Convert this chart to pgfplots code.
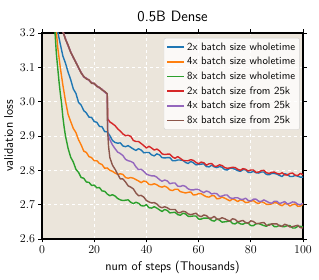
\documentclass[border=0pt]{standalone}
\usepackage{pgfplots}
\pgfplotsset{compat=1.18}
\definecolor{bgc}{RGB}{235,229,219}
\definecolor{cblue}{HTML}{1F77B4}
\definecolor{corange}{HTML}{FF7F0E}
\definecolor{cgreen}{HTML}{2CA02C}
\definecolor{cred}{HTML}{D62728}
\definecolor{cpurple}{HTML}{9467BD}
\definecolor{cbrown}{HTML}{8C564B}
\begin{document}
\begin{tikzpicture}
\useasboundingbox (-42pt,-41pt) rectangle (277pt,239pt);
\begin{axis}[
  at={(0,0)}, anchor=south west,
  scale only axis, width=261pt, height=206pt,
  xmin=0, xmax=100, ymin=2.6, ymax=3.2,
  xtick={0,20,40,60,80,100},
  ytick={2.6,2.7,2.8,2.9,3.0,3.1,3.2},
  yticklabel style={/pgf/number format/fixed, /pgf/number format/precision=1, /pgf/number format/fixed zerofill},
  tick label style={font=\fontsize{12.5}{15}\selectfont},
  axis background/.style={fill=bgc},
  grid=major,
  major grid style={white, dashed, line width=0.8pt},
  axis line style={black, line width=1.8pt},
  tick align=outside,
  tick style={black, line width=0.8pt},
  major tick length=3.5pt,
  title={0.5B Dense},
  title style={font=\sffamily\fontsize{15}{18}\selectfont, yshift=2pt},
  xlabel={num of steps (Thousands)},
  ylabel={validation loss},
  label style={font=\sffamily\fontsize{12.5}{15}\selectfont},
  legend style={at={(0.988,0.976)}, anchor=north east, draw=gray!35, rounded corners=2pt,
    fill=white, fill opacity=0.8, text opacity=1, draw opacity=1,
    font=\sffamily\fontsize{10.8}{13}\selectfont, row sep=1.6pt, inner sep=2.5pt},
  legend cell align=left,
  legend image post style={line width=1.6pt},
  every axis plot/.append style={line width=1.4pt, line join=round},
]
% 2x wholetime
\addplot[cblue] coordinates {
(5,3.27) (6,3.205) (7,3.168) (8,3.133) (9,3.112) (10,3.086) (11,3.064) (12,3.037) (13,3.024) (14,2.998) (15,2.990) (16,2.974) (17,2.967) (18,2.955) (19,2.954) (20,2.942) (21,2.940) (22,2.928) (23,2.927) (24,2.913) (25,2.912)
(26,2.901) (27,2.887) (28,2.881) (29,2.879)
(30,2.880) (31,2.871) (32,2.869) (33,2.872) (34,2.867) (35,2.862) (36,2.858) (37,2.863) (38,2.859) (39,2.851) (40,2.852) (41,2.852) (42,2.845) (43,2.842) (44,2.848) (45,2.845) (46,2.837) (47,2.836) (48,2.837) (49,2.837) (50,2.828) (51,2.828) (52,2.830) (53,2.830) (54,2.829) (55,2.823) (56,2.820) (57,2.826) (58,2.822) (59,2.816) (60,2.817) (61,2.818) (62,2.819) (63,2.811) (64,2.810) (65,2.815) (66,2.810) (67,2.808) (68,2.811) (69,2.809) (70,2.802) (71,2.801) (72,2.806) (73,2.806) (74,2.803) (75,2.799) (76,2.797) (77,2.802) (78,2.802) (79,2.794) (80,2.794) (81,2.797) (82,2.793) (83,2.792) (84,2.795) (85,2.795) (86,2.788) (87,2.787) (88,2.791) (89,2.791) (90,2.789) (91,2.785) (92,2.782) (93,2.790) (94,2.788) (95,2.782) (96,2.782) (97,2.785) (98,2.783) (99,2.780) (100,2.780)
};
\addlegendentry{2x batch size wholetime}
% 4x wholetime
\addplot[corange] coordinates {
(4.5,3.30) (5.5,3.205) (6,3.16) (7,3.10) (8,3.048) (9,3.002) (10,2.963) (11,2.942) (12,2.922) (13,2.910) (14,2.889) (15,2.874) (16,2.856) (17,2.852) (18,2.840) (19,2.837) (20,2.828) (21,2.828) (22,2.820) (23,2.817) (24,2.806) (25,2.807)
(26,2.800) (27,2.797) (28,2.792) (29,2.788) (30,2.790)
(31,2.788) (32,2.779) (33,2.777) (34,2.779) (35,2.777) (36,2.773) (37,2.769) (38,2.764) (39,2.769) (40,2.767) (41,2.759) (42,2.758) (43,2.761) (44,2.758) (45,2.753) (46,2.751) (47,2.754) (48,2.750) (49,2.743) (50,2.741) (51,2.745) (52,2.745) (53,2.738) (54,2.736) (55,2.734) (56,2.736) (57,2.737) (58,2.728) (59,2.729) (60,2.732) (61,2.732) (62,2.727) (63,2.723) (64,2.722) (65,2.726) (66,2.726) (67,2.717) (68,2.718) (69,2.722) (70,2.719) (71,2.715) (72,2.711) (73,2.717) (74,2.714) (75,2.709) (76,2.714) (77,2.712) (78,2.706) (79,2.707) (80,2.710) (81,2.712) (82,2.706) (83,2.703) (84,2.709) (85,2.706) (86,2.701) (87,2.701) (88,2.702) (89,2.706) (90,2.705) (91,2.700) (92,2.697) (93,2.703) (94,2.702) (95,2.696) (96,2.700) (97,2.702) (98,2.695) (99,2.696) (100,2.701)
};
\addlegendentry{4x batch size wholetime}
% 8x wholetime
\addplot[cgreen] coordinates {
(4,3.33) (4.5,3.27) (5,3.20) (5.5,3.14) (6,3.10) (6.5,3.06) (7,3.025) (7.5,2.995) (8,2.955) (8.5,2.925) (9,2.90) (10,2.864) (11,2.838) (12,2.824) (13,2.803) (14,2.794) (15,2.779) (16,2.777) (17,2.766) (18,2.765) (19,2.756) (20,2.757) (21,2.749) (22,2.750) (23,2.740) (24,2.739) (25,2.731)
(26,2.726) (27,2.729) (28,2.725) (29,2.718) (30,2.714)
(31,2.712) (32,2.713) (33,2.714) (34,2.707) (35,2.703) (36,2.707) (37,2.704) (38,2.697) (39,2.696) (40,2.700) (41,2.691) (42,2.690) (43,2.694) (44,2.690) (45,2.685) (46,2.680) (47,2.686) (48,2.683) (49,2.676) (50,2.677) (51,2.678) (52,2.671) (53,2.669) (54,2.675) (55,2.673) (56,2.666) (57,2.666) (58,2.667) (59,2.667) (60,2.658) (61,2.658) (62,2.661) (63,2.661) (64,2.660) (65,2.654) (66,2.652) (67,2.658) (68,2.655) (69,2.649) (70,2.650) (71,2.651) (72,2.653) (73,2.645) (74,2.644) (75,2.649) (76,2.644) (77,2.643) (78,2.647) (79,2.646) (80,2.639) (81,2.639) (82,2.644) (83,2.645) (84,2.642) (85,2.639) (86,2.637) (87,2.643) (88,2.643) (89,2.636) (90,2.636) (91,2.640) (92,2.636) (93,2.636) (94,2.639) (95,2.639) (96,2.632) (97,2.632) (98,2.637) (99,2.637) (100,2.635)
};
\addlegendentry{8x batch size wholetime}
% 2x from 25k
\addplot[cred] coordinates {
(6,3.27) (7,3.235) (8,3.205) (9,3.183) (10,3.163) (11,3.145) (12,3.128) (13,3.115) (14,3.098) (15,3.085) (16,3.072) (17,3.068) (18,3.062) (19,3.055) (20,3.052) (21,3.046) (22,3.040) (23,3.036) (24,3.028) (25,3.023)
(25.2,2.950) (26,2.941) (27,2.936) (28,2.930) (29,2.921) (30,2.914)
(31,2.906) (32,2.901) (33,2.902) (34,2.899) (35,2.887) (36,2.884) (37,2.884) (38,2.878) (39,2.872) (40,2.865) (41,2.870) (42,2.865) (43,2.859) (44,2.862) (45,2.857) (46,2.848) (47,2.846) (48,2.847) (49,2.847) (50,2.839) (51,2.835) (52,2.840) (53,2.835) (54,2.829) (55,2.828) (56,2.828) (57,2.831) (58,2.829) (59,2.823) (60,2.819) (61,2.824) (62,2.822) (63,2.815) (64,2.819) (65,2.820) (66,2.812) (67,2.812) (68,2.816) (69,2.814) (70,2.808) (71,2.806) (72,2.807) (73,2.809) (74,2.808) (75,2.803) (76,2.800) (77,2.805) (78,2.803) (79,2.798) (80,2.801) (81,2.801) (82,2.794) (83,2.795) (84,2.799) (85,2.800) (86,2.793) (87,2.791) (88,2.794) (89,2.795) (90,2.791) (91,2.789) (92,2.793) (93,2.787) (94,2.786) (95,2.791) (96,2.792) (97,2.786) (98,2.785) (99,2.791) (100,2.787)
};
\addlegendentry{2x batch size from 25k}
% 4x from 25k
\addplot[cpurple] coordinates {
(6,3.27) (7,3.235) (8,3.205) (9,3.183) (10,3.163) (11,3.145) (12,3.128) (13,3.115) (14,3.098) (15,3.085) (16,3.072) (17,3.068) (18,3.062) (19,3.055) (20,3.052) (21,3.046) (22,3.040) (23,3.036) (24,3.028) (25,3.023)
(25.2,2.905) (26,2.889) (27,2.874) (28,2.863) (29,2.853) (30,2.849)
(31,2.843) (32,2.832) (33,2.828) (34,2.826) (35,2.822) (36,2.810) (37,2.802) (38,2.803) (39,2.797) (40,2.789) (41,2.786) (42,2.784) (43,2.784) (44,2.780) (45,2.773) (46,2.768) (47,2.772) (48,2.769) (49,2.761) (50,2.763) (51,2.763) (52,2.754) (53,2.753) (54,2.756) (55,2.753) (56,2.746) (57,2.743) (58,2.743) (59,2.745) (60,2.744) (61,2.739) (62,2.735) (63,2.740) (64,2.737) (65,2.731) (66,2.733) (67,2.732) (68,2.724) (69,2.725) (70,2.728) (71,2.728) (72,2.720) (73,2.718) (74,2.720) (75,2.720) (76,2.716) (77,2.715) (78,2.719) (79,2.712) (80,2.711) (81,2.716) (82,2.716) (83,2.710) (84,2.709) (85,2.714) (86,2.710) (87,2.706) (88,2.704) (89,2.710) (90,2.710) (91,2.703) (92,2.706) (93,2.709) (94,2.702) (95,2.704) (96,2.708) (97,2.707) (98,2.701) (99,2.700) (100,2.704)
};
\addlegendentry{4x batch size from 25k}
% 8x from 25k
\addplot[cbrown] coordinates {
(6,3.27) (7,3.235) (8,3.205) (9,3.181) (10,3.165) (11,3.143) (12,3.130) (13,3.113) (14,3.100) (15,3.083) (16,3.074) (17,3.066) (18,3.064) (19,3.053) (20,3.054) (21,3.044) (22,3.042) (23,3.034) (24,3.030) (25,3.023)
(25.1,2.920) (25.5,2.870) (26,2.837) (27,2.815) (28,2.803) (29,2.789) (30,2.775)
(31,2.775) (32,2.766) (33,2.755) (34,2.751) (35,2.746) (36,2.734) (37,2.726) (38,2.727) (39,2.722) (40,2.712) (41,2.708) (42,2.705) (43,2.706) (44,2.702) (45,2.694) (46,2.691) (47,2.694) (48,2.691) (49,2.686) (50,2.686) (51,2.686) (52,2.677) (53,2.677) (54,2.681) (55,2.679) (56,2.673) (57,2.671) (58,2.673) (59,2.675) (60,2.668) (61,2.665) (62,2.670) (63,2.668) (64,2.661) (65,2.661) (66,2.666) (67,2.658) (68,2.658) (69,2.662) (70,2.659) (71,2.655) (72,2.652) (73,2.659) (74,2.657) (75,2.650) (76,2.652) (77,2.654) (78,2.648) (79,2.646) (80,2.653) (81,2.651) (82,2.645) (83,2.645) (84,2.647) (85,2.648) (86,2.640) (87,2.640) (88,2.644) (89,2.644) (90,2.644) (91,2.638) (92,2.637) (93,2.643) (94,2.640) (95,2.635) (96,2.636) (97,2.638) (98,2.640) (99,2.633) (100,2.632)
};
\addlegendentry{8x batch size from 25k}
\end{axis}
\end{tikzpicture}
\end{document}
